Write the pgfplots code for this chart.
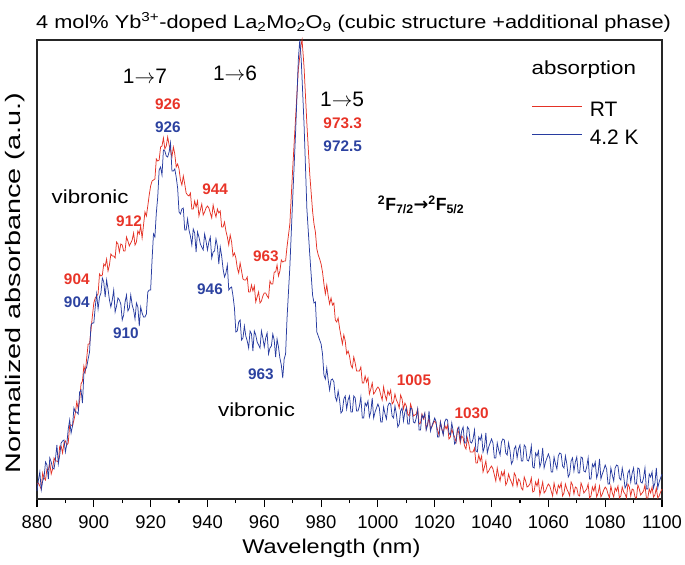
\documentclass[border=0pt]{standalone}
\usepackage{fontspec}
\setmainfont{Liberation Sans}
\newfontfamily\wide{Liberation Sans}[FakeStretch=1.18]
\newfontfamily\tit{Liberation Sans}[FakeStretch=1.175]
\newfontfamily\wider{Liberation Sans}[FakeStretch=1.38]
\newfontfamily\djv{DejaVu Sans}
\usepackage{pgfplots}
\pgfplotsset{compat=1.18}
\definecolor{cred}{RGB}{228,50,38}
\definecolor{cblue}{RGB}{40,60,160}
\definecolor{lred}{RGB}{232,52,40}
\definecolor{lblue}{RGB}{44,66,160}
\begin{document}
\begin{tikzpicture}
\begin{axis}[
 scale only axis, width=625bp, height=459bp,
 xmin=880, xmax=1100, ymin=0, ymax=459,
 xtick={880,900,...,1100}, minor x tick num=1, ytick=\empty,
 xtick pos=bottom, tick align=outside,
 major tick length=8bp, minor tick length=4bp,
 tick style={line width=1.1bp, black},
 axis line style={line width=1.2bp, black!85},
 ticklabel style={font=\fontsize{18.5}{18.5}\selectfont},
 /pgf/number format/assume math mode=true,
 /pgf/number format/1000 sep={},
 xticklabel style={yshift=-5bp},
 clip=false,
 legend style={at={(0.7915,0.870)}, anchor=north west, draw=none, fill=none, inner sep=0pt, row sep=5bp, column sep=5bp,
   font=\fontsize{21}{21}\selectfont, nodes={inner sep=2bp, text height=15bp, text depth=4bp}},
 legend image code/.code={\draw[#1,line width=0.9bp] (0bp,5bp) -- (50bp,5bp);},
 legend cell align=left,
]
\coordinate (SW) at (rel axis cs:0,0);
\coordinate (NE) at (rel axis cs:1,1);
\addplot[cred, line width=0.75bp] coordinates {
(880,15)(880.5,16)(881,13)(881.5,10)(882,26)(882.5,21)(883,19)(883.5,30)(884,29)(884.5,36)(885,25)(885.5,30)(886,41)(886.5,38)(887,38)(887.5,37)(888,53)(888.5,53)(889,46)(889.5,56)
(890,58)(890.5,54)(891,56)(891.5,74)(892,74)(892.5,73)(893,79)(893.5,86)(894,97)(894.5,90)(895,98)(895.5,115)(896,118)(896.5,133)(897,127)(897.5,141)(898,155)(898.5,155)(899,169)(899.5,183)
(900,196)(900.5,201)(901,203)(901.5,205)(902,225)(902.5,223)(903,224)(903.5,235)(904,233)(904.5,240)(905,228)(905.5,234)(906,245)(906.5,243)(907,243)(907.5,241)(908,257)(908.5,255)(909,247)(909.5,255)
(910,254)(910.5,248)(911,248)(911.5,262)(912,258)(912.5,253)(913,256)(913.5,259)(914,266)(914.5,254)(915,257)(915.5,268)(916,265)(916.5,273)(917,261)(917.5,274)(918,287)(918.5,283)(919,293)(919.5,304)
(920,313)(920.5,318)(921,319)(921.5,320)(922,340)(922.5,338)(923,339)(923.5,352)(924,353)(924.5,361)(925,350)(925.5,353)(926,362)(926.5,354)(927,349)(927.5,342)(928,352)(928.5,345)(929,332)(929.5,335)
(930,330)(930.5,319)(931,314)(931.5,323)(932,315)(932.5,306)(933,304)(933.5,303)(934,306)(934.5,290)(935,290)(935.5,298)(936,292)(936.5,298)(937,283)(937.5,289)(938,295)(938.5,284)(939,287)(939.5,291)
(940,293)(940.5,291)(941,286)(941.5,281)(942,294)(942.5,287)(943,282)(943.5,290)(944,286)(944.5,288)(945,272)(945.5,272)(946,277)(946.5,268)(947,262)(947.5,254)(948,264)(948.5,257)(949,243)(949.5,246)
(950,241)(950.5,231)(951,226)(951.5,236)(952,228)(952.5,220)(953,219)(953.5,219)(954,222)(954.5,207)(955,207)(955.5,214)(956,208)(956.5,213)(957,197)(957.5,202)(958,207)(958.5,196)(959,198)(959.5,203)
(960,206)(960.5,206)(961,203)(961.5,201)(962,218)(962.5,215)(963,215)(963.5,227)(964,227)(964.5,234)(965,223)(965.5,228)(966,239)(966.5,237)(967,238)(967.5,238)(968,252)(969,275)(970,330)(971,380)
(972,430)(973,455)(973.3,459)(974,432)(975,375)(976,325)(977,288)(977.5,275)(978,267)(978.5,250)(979,244)(979.5,240)
(980,235)(980.5,227)(981,215)(981.5,205)(982,214)(982.5,203)(983,195)(983.5,201)(984,194)(984.5,196)(985,179)(985.5,177)(986,181)(986.5,171)(987,163)(987.5,155)(988,164)(988.5,158)(989,145)(989.5,148)
(990,143)(990.5,134)(991,131)(991.5,142)(992,136)(992.5,128)(993,128)(993.5,128)(994,132)(994.5,116)(995,116)(995.5,123)(996,117)(996.5,121)(997,105)(997.5,110)(998,116)(998.5,105)(999,107)(999.5,110)
(1000,112)(1000.5,110)(1001,104)(1001.5,99)(1002,112)(1002.5,104)(1003,99)(1003.5,108)(1004,104)(1004.5,109)(1005,95)(1005.5,97)(1006,105)(1006.5,99)(1007,96)(1007.5,91)(1008,104)(1008.5,100)(1009,90)(1009.5,96)
(1010,93)(1010.5,85)(1011,83)(1011.5,95)(1012,90)(1012.5,83)(1013,84)(1013.5,85)(1014,90)(1014.5,75)(1015,76)(1015.5,85)(1016,80)(1016.5,85)(1017,70)(1017.5,75)(1018,81)(1018.5,70)(1019,72)(1019.5,76)
(1020,78)(1020.5,75)(1021,69)(1021.5,64)(1022,77)(1022.5,70)(1023,65)(1023.5,74)(1024,70)(1024.5,74)(1025,60)(1025.5,62)(1026,70)(1026.5,65)(1027,62)(1027.5,57)(1028,70)(1028.5,66)(1029,56)(1029.5,63)
(1030,61)(1030.5,53)(1031,50)(1031.5,61)(1032,55)(1032.5,47)(1033,47)(1033.5,47)(1034,51)(1034.5,36)(1035,36)(1035.5,44)(1036,38)(1036.5,43)(1037,27)(1037.5,32)(1038,38)(1038.5,26)(1039,28)(1039.5,31)
(1040,33)(1040.5,30)(1041,24)(1041.5,18)(1042,31)(1042.5,23)(1043,18)(1043.5,27)(1044,23)(1044.5,28)(1045,14)(1045.5,17)(1046,25)(1046.5,20)(1047,17)(1047.5,13)(1048,26)(1048.5,23)(1049,13)(1049.5,20)
(1050,18)(1050.5,11)(1051,9)(1051.5,22)(1052,18)(1052.5,12)(1053,13)(1053.5,15)(1054,21)(1054.5,7)(1055,8)(1055.5,17)(1056,13)(1056.5,19)(1057,4)(1057.5,10)(1058,17)(1058.5,6)(1059,8)(1059.5,12)
(1060,15)(1060.5,13)(1061,8)(1061.5,3)(1062,16)(1062.5,9)(1063,5)(1063.5,14)(1064,11)(1064.5,16)(1065,3)(1065.5,6)(1066,15)(1066.5,10)(1067,7)(1067.5,3)(1068,17)(1068.5,14)(1069,5)(1069.5,12)
(1070,11)(1070.5,4)(1071,3)(1071.5,16)(1072,12)(1072.5,6)(1073,8)(1073.5,10)(1074,15)(1074.5,1)(1075,3)(1075.5,12)(1076,8)(1076.5,14)(1077,2)(1077.5,6)(1078,13)(1078.5,2)(1079,5)(1079.5,9)
(1080,12)(1080.5,10)(1081,5)(1081.5,1)(1082,13)(1082.5,6)(1083,2)(1083.5,11)(1084,8)(1084.5,13)(1085,1)(1085.5,3)(1086,12)(1086.5,7)(1087,5)(1087.5,1)(1088,15)(1088.5,12)(1089,3)(1089.5,10)
(1090,9)(1090.5,2)(1091,1)(1091.5,14)(1092,10)(1092.5,4)(1093,6)(1093.5,8)(1094,14)(1094.5,1)(1095,1)(1095.5,10)(1096,6)(1096.5,12)(1097,2)(1097.5,4)(1098,11)(1098.5,1)(1099,3)(1099.5,7)(1100,10)
};
\addlegendentry{RT}
\addplot[cblue, line width=0.75bp] coordinates {
(880,8)(880.5,19)(881,27)(881.5,9)(882,18)(882.5,22)(883,37)(883.5,34)(884,20)(884.5,41)(885,37)(885.5,31)(886,30)(886.5,40)(887,54)(887.5,35)(888,44)(888.5,56)(889,58)(889.5,59)
(890,47)(890.5,55)(891,70)(891.5,79)(892,66)(892.5,73)(893,91)(893.5,87)(894,87)(894.5,85)(895,107)(895.5,109)(896,96)(896.5,125)(897,129)(897.5,132)(898,140)(898.5,147)(899,174)(899.5,176)
(900,176)(900.5,192)(901,205)(901.5,190)(902,202)(902.5,206)(903,221)(903.5,217)(904,202)(904.5,219)(905,210)(905.5,199)(906,192)(906.5,199)(907,209)(907.5,187)(908,193)(908.5,201)(909,199)(909.5,195)
(910,179)(910.5,184)(911,197)(911.5,204)(912,188)(912.5,191)(913,204)(913.5,194)(914,189)(914.5,180)(915,196)(915.5,192)(916,173)(916.5,192)(917,186)(917.5,182)(918,182)(918.5,185)(919,207)(919.5,209)
(920,209)(920.5,239)(921,265)(921.5,262)(922,286)(922.5,302)(923,329)(923.5,332)(924,324)(924.5,349)(925,348)(925.5,343)(926,342)(926.5,347)(927,356)(927.5,328)(928,328)(928.5,330)(929,322)(929.5,311)
(930,287)(930.5,285)(931,290)(931.5,291)(932,269)(932.5,269)(933,280)(933.5,269)(934,263)(934.5,254)(935,270)(935.5,266)(936,247)(936.5,267)(937,262)(937.5,255)(938,252)(938.5,249)(939,265)(939.5,258)
(940,249)(940.5,257)(941,262)(941.5,241)(942,247)(942.5,248)(943,260)(943.5,253)(944,235)(944.5,252)(945,243)(945.5,230)(946,222)(946.5,226)(947,234)(947.5,209)(948,211)(948.5,212)(949,203)(949.5,191)
(950,167)(950.5,168)(951,177)(951.5,179)(952,159)(952.5,161)(953,173)(953.5,163)(954,158)(954.5,151)(955,168)(955.5,165)(956,148)(956.5,168)(957,164)(957.5,157)(958,154)(958.5,151)(959,168)(959.5,161)
(960,152)(960.5,161)(961,166)(961.5,145)(962,151)(962.5,153)(963,165)(963.5,159)(964,142)(964.5,160)(965,152)(965.5,141)(966,134)(966.5,121)(967,140)(967.5,145)(968,180)(969,232)(970,300)(971,365)
(972,440)(972.5,459)(973,440)(974,375)(975,290)(976,245)(977,204)(977.5,196)(978,197)(978.5,167)(979,163)(979.5,159)
(980,155)(980.5,145)(981,124)(981.5,120)(982,131)(982.5,119)(983,109)(983.5,119)(984,120)(984.5,117)(985,102)(985.5,98)(986,108)(986.5,99)(987,86)(987.5,88)(988,100)(988.5,103)(989,90)(989.5,99)
(990,103)(990.5,87)(991,87)(991.5,103)(992,101)(992.5,88)(993,88)(993.5,93)(994,102)(994.5,81)(995,81)(995.5,96)(996,93)(996.5,98)(997,82)(997.5,87)(998,101)(998.5,81)(999,87)(999.5,91)
(1000,95)(1000.5,91)(1001,77)(1001.5,77)(1002,92)(1002.5,85)(1003,80)(1003.5,93)(1004,96)(1004.5,95)(1005,83)(1005.5,81)(1006,93)(1006.5,85)(1007,72)(1007.5,75)(1008,88)(1008.5,91)(1009,78)(1009.5,87)
(1010,91)(1010.5,75)(1011,75)(1011.5,91)(1012,90)(1012.5,77)(1013,76)(1013.5,81)(1014,90)(1014.5,69)(1015,69)(1015.5,84)(1016,81)(1016.5,86)(1017,69)(1017.5,74)(1018,88)(1018.5,68)(1019,73)(1019.5,77)
(1020,81)(1020.5,77)(1021,62)(1021.5,62)(1022,77)(1022.5,70)(1023,64)(1023.5,77)(1024,80)(1024.5,79)(1025,66)(1025.5,64)(1026,76)(1026.5,68)(1027,55)(1027.5,57)(1028,69)(1028.5,72)(1029,59)(1029.5,68)
(1030,72)(1030.5,56)(1031,56)(1031.5,72)(1032,70)(1032.5,57)(1033,56)(1033.5,60)(1034,69)(1034.5,48)(1035,47)(1035.5,62)(1036,59)(1036.5,64)(1037,47)(1037.5,52)(1038,66)(1038.5,46)(1039,52)(1039.5,56)
(1040,60)(1040.5,56)(1041,41)(1041.5,41)(1042,56)(1042.5,49)(1043,44)(1043.5,57)(1044,60)(1044.5,59)(1045,46)(1045.5,44)(1046,56)(1046.5,48)(1047,35)(1047.5,38)(1048,50)(1048.5,53)(1049,41)(1049.5,50)
(1050,54)(1050.5,38)(1051,38)(1051.5,54)(1052,52)(1052.5,39)(1053,38)(1053.5,43)(1054,53)(1054.5,32)(1055,31)(1055.5,46)(1056,43)(1056.5,48)(1057,32)(1057.5,37)(1058,51)(1058.5,31)(1059,37)(1059.5,41)
(1060,45)(1060.5,41)(1061,27)(1061.5,27)(1062,42)(1062.5,35)(1063,30)(1063.5,43)(1064,46)(1064.5,45)(1065,33)(1065.5,31)(1066,43)(1066.5,35)(1067,22)(1067.5,25)(1068,38)(1068.5,41)(1069,28)(1069.5,37)
(1070,42)(1070.5,26)(1071,26)(1071.5,42)(1072,41)(1072.5,28)(1073,27)(1073.5,32)(1074,41)(1074.5,20)(1075,20)(1075.5,35)(1076,32)(1076.5,37)(1077,21)(1077.5,26)(1078,40)(1078.5,20)(1079,25)(1079.5,29)
(1080,34)(1080.5,30)(1081,15)(1081.5,15)(1082,31)(1082.5,24)(1083,18)(1083.5,31)(1084,34)(1084.5,33)(1085,21)(1085.5,19)(1086,31)(1086.5,23)(1087,11)(1087.5,14)(1088,26)(1088.5,29)(1089,17)(1089.5,26)
(1090,31)(1090.5,15)(1091,15)(1091.5,31)(1092,30)(1092.5,17)(1093,16)(1093.5,21)(1094,31)(1094.5,10)(1095,10)(1095.5,25)(1096,22)(1096.5,27)(1097,11)(1097.5,16)(1098,31)(1098.5,11)(1099,17)(1099.5,21)(1100,25)
};
\addlegendentry{4.2 K}
% titles and labels
\node[anchor=base west, inner sep=0pt, font=\tit\fontsize{18.6}{18.6}\selectfont] at (rel axis cs:-0.0016,1.026)
 {4 mol\% Yb\textsuperscript{3+}-doped La\textsubscript{2}Mo\textsubscript{2}O\textsubscript{9} (cubic structure +additional phase)};
\node[anchor=base, font=\wide\fontsize{20}{20}\selectfont] at (rel axis cs:0.471,-0.1198) {Wavelength (nm)};
\node[rotate=90, anchor=center, font=\wider\fontsize{21}{21}\selectfont] at (rel axis cs:-0.0352,0.4706) {Normalized absorbance (a.u.)};
% annotations
\node[font=\fontsize{21}{21}\selectfont] at (axis cs:918.0,423) {1$\rightarrow$7};
\node[font=\fontsize{21}{21}\selectfont] at (axis cs:949.7,426) {1$\rightarrow$6};
\node[font=\fontsize{21}{21}\selectfont] at (axis cs:987.4,400) {1$\rightarrow$5};
\node[font=\wide\fontsize{19}{19}\selectfont] at (axis cs:898.7,302) {vibronic};
\node[font=\wide\fontsize{19}{19}\selectfont] at (axis cs:957.3,89) {vibronic};
\node[font=\wide\fontsize{19}{19}\selectfont] at (axis cs:1072.5,429) {absorption};
\node[font=\bfseries\fontsize{17.7}{17.7}\selectfont] at (axis cs:1015.2,294) {\textsuperscript{2}F\textsubscript{7/2}{\djv\bfseries →}\textsuperscript{2}F\textsubscript{5/2}};
\begin{scope}[every node/.style={font=\bfseries\fontsize{15.4}{15.4}\selectfont}]
\node[text=lred] at (axis cs:926.1,395) {926};
\node[text=lblue] at (axis cs:926.1,372) {926};
\node[text=lred] at (axis cs:987.6,376) {973.3};
\node[text=lblue] at (axis cs:987.6,353) {972.5};
\node[text=lred] at (axis cs:912.4,278) {912};
\node[text=lred] at (axis cs:942.7,310) {944};
\node[text=lred] at (axis cs:960.6,243) {963};
\node[text=lred] at (axis cs:894.0,220) {904};
\node[text=lblue] at (axis cs:894.0,197) {904};
\node[text=lblue] at (axis cs:911.3,166) {910};
\node[text=lblue] at (axis cs:940.9,210) {946};
\node[text=lblue] at (axis cs:958.8,125) {963};
\node[text=lred] at (axis cs:1012.7,119) {1005};
\node[text=lred] at (axis cs:1033.0,86) {1030};
\end{scope}
\end{axis}
\pgfresetboundingbox
\path ([shift={(-37bp,-66bp)}]SW) rectangle ([shift={(23bp,40bp)}]NE);
\end{tikzpicture}
\end{document}
